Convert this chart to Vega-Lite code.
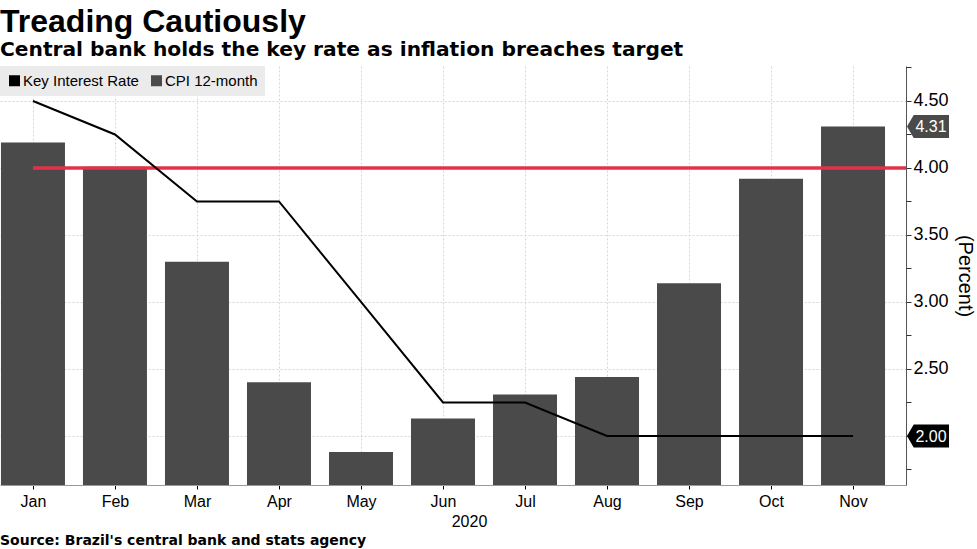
{
  "$schema": "https://vega.github.io/schema/vega-lite/v6.json",
  "width": 906,
  "height": 419,
  "autosize": {"type": "none"},
  "padding": {"left": 0, "top": 66, "right": 71, "bottom": 64},
  "background": "white",
  "title": {
    "text": "Treading Cautiously",
    "subtitle": "Central bank holds the key rate as inflation breaches target",
    "anchor": "start",
    "frame": "group",
    "offset": 5,
    "font": "Liberation Sans",
    "fontSize": 32,
    "fontWeight": "bold",
    "color": "#000000",
    "subtitleFont": "DejaVu Sans",
    "subtitleFontSize": 20.2,
    "subtitleFontWeight": "bold",
    "subtitleColor": "#000000",
    "subtitlePadding": 1
  },
  "datasets": {
    "cpi": [
      {"month": 1, "series": "CPI 12-month", "value": 4.19},
      {"month": 2, "series": "CPI 12-month", "value": 4.01},
      {"month": 3, "series": "CPI 12-month", "value": 3.30},
      {"month": 4, "series": "CPI 12-month", "value": 2.40},
      {"month": 5, "series": "CPI 12-month", "value": 1.88},
      {"month": 6, "series": "CPI 12-month", "value": 2.13},
      {"month": 7, "series": "CPI 12-month", "value": 2.31},
      {"month": 8, "series": "CPI 12-month", "value": 2.44},
      {"month": 9, "series": "CPI 12-month", "value": 3.14},
      {"month": 10, "series": "CPI 12-month", "value": 3.92},
      {"month": 11, "series": "CPI 12-month", "value": 4.31}
    ],
    "rate": [
      {"month": 1, "series": "Key Interest Rate", "value": 4.50},
      {"month": 2, "series": "Key Interest Rate", "value": 4.25},
      {"month": 3, "series": "Key Interest Rate", "value": 3.75},
      {"month": 4, "series": "Key Interest Rate", "value": 3.75},
      {"month": 5, "series": "Key Interest Rate", "value": 3.00},
      {"month": 6, "series": "Key Interest Rate", "value": 2.25},
      {"month": 7, "series": "Key Interest Rate", "value": 2.25},
      {"month": 8, "series": "Key Interest Rate", "value": 2.00},
      {"month": 9, "series": "Key Interest Rate", "value": 2.00},
      {"month": 10, "series": "Key Interest Rate", "value": 2.00},
      {"month": 11, "series": "Key Interest Rate", "value": 2.00}
    ],
    "target": [{"month": 1, "value": 4.0}],
    "source": [{"text": "Source: Brazil's central bank and stats agency"}]
  },
  "resolve": {"axis": {"y": "independent"}},
  "layer": [
    {
      "data": {"name": "cpi"},
      "mark": {"type": "bar", "width": 64, "clip": true},
      "encoding": {
        "x": {
          "field": "month",
          "type": "quantitative",
          "scale": {"domain": [0.598, 11.646], "nice": false, "zero": false, "padding": 0},
          "axis": {
            "values": [1, 2, 3, 4, 5, 6, 7, 8, 9, 10, 11],
            "labelExpr": "['Jan','Feb','Mar','Apr','May','Jun','Jul','Aug','Sep','Oct','Nov'][datum.value - 1]",
            "title": "2020",
            "grid": true,
            "gridColor": "#d6d6d6",
            "gridDash": [2, 2],
            "gridWidth": 1,
            "domainColor": "#999999",
            "tickColor": "#000000",
            "tickSize": 4,
            "labelFontSize": 16,
            "labelPadding": 4,
            "labelColor": "#000000",
            "labelFlush": false,
            "labelOverlap": false,
            "titleFontSize": 16,
            "titleFontWeight": "normal",
            "titleColor": "#000000",
            "titlePadding": 4,
            "titleX": 469
          }
        },
        "y": {
          "field": "value",
          "type": "quantitative",
          "scale": {"domain": [1.634, 4.761], "nice": false, "zero": false, "padding": 0},
          "axis": {
            "orient": "right",
            "values": [2, 2.5, 3, 3.5, 4, 4.5],
            "format": ".2f",
            "labelExpr": "datum.label == '2.00' ? '' : datum.label",
            "grid": true,
            "gridColor": "#d6d6d6",
            "gridDash": [2, 2],
            "domainColor": "#555555",
            "tickColor": "#333333",
            "tickSize": 5,
            "labelFontSize": 18,
            "labelPadding": 2,
            "labelColor": "#000000",
            "labelFlush": false,
            "labelOverlap": false,
            "title": "(Percent)",
            "titleFontSize": 20,
            "titleFontWeight": "normal",
            "titleColor": "#000000",
            "titlePadding": 6
          }
        },
        "color": {
          "field": "series",
          "type": "nominal",
          "scale": {"domain": ["Key Interest Rate", "CPI 12-month"], "range": ["#000000", "#4a4a4a"]},
          "legend": {
            "title": null,
            "orient": "none",
            "legendX": 0,
            "legendY": 0,
            "direction": "horizontal",
            "fillColor": "#ebebeb",
            "padding": 7,
            "symbolType": "square",
            "symbolSize": 121,
            "symbolStrokeWidth": 0,
            "labelFontSize": 15,
            "labelColor": "#000000",
            "columnPadding": 10,
            "labelOffset": 1
          }
        }
      }
    },
    {
      "data": {"name": "target"},
      "mark": {"type": "rule", "color": "#e5304a", "strokeWidth": 3.5},
      "encoding": {
        "x": {"field": "month", "type": "quantitative"},
        "x2": {"value": "width"},
        "y": {"field": "value", "type": "quantitative", "axis": null}
      }
    },
    {
      "data": {"name": "rate"},
      "mark": {"type": "line", "color": "#000000", "strokeWidth": 2},
      "encoding": {
        "x": {"field": "month", "type": "quantitative"},
        "y": {
          "field": "value",
          "type": "quantitative",
          "axis": {
            "orient": "right",
            "offset": 0,
            "values": [1.75, 2.25, 2.75, 3.25, 3.75, 4.25, 4.75],
            "labels": false,
            "grid": false,
            "domain": false,
            "title": null,
            "tickColor": "#333333",
            "tickSize": 5
          }
        }
      }
    },
    {
      "data": {"name": "cpi"},
      "transform": [{"filter": "datum.month == 11"}],
      "mark": {
        "type": "point",
        "shape": "M -1 0 L -0.68 -0.55 L 1 -0.55 L 1 0.55 L -0.68 0.55 Z",
        "size": 1764,
        "filled": true,
        "opacity": 1,
        "strokeWidth": 0,
        "color": "#4a4a4a",
        "xOffset": 22,
        "clip": false
      },
      "encoding": {
        "x": {"value": "width"},
        "y": {"field": "value", "type": "quantitative", "axis": null}
      }
    },
    {
      "data": {"name": "cpi"},
      "transform": [{"filter": "datum.month == 11"}],
      "mark": {"type": "text", "color": "#ffffff", "fontSize": 16, "align": "center", "baseline": "middle", "dx": 25, "dy": 1},
      "encoding": {
        "x": {"value": "width"},
        "y": {"field": "value", "type": "quantitative", "axis": null},
        "text": {"field": "value", "type": "quantitative", "format": ".2f"}
      }
    },
    {
      "data": {"name": "rate"},
      "transform": [{"filter": "datum.month == 11"}],
      "mark": {
        "type": "point",
        "shape": "M -1 0 L -0.68 -0.55 L 1 -0.55 L 1 0.55 L -0.68 0.55 Z",
        "size": 1764,
        "filled": true,
        "opacity": 1,
        "strokeWidth": 0,
        "color": "#000000",
        "xOffset": 22,
        "clip": false
      },
      "encoding": {
        "x": {"value": "width"},
        "y": {"field": "value", "type": "quantitative", "axis": null}
      }
    },
    {
      "data": {"name": "rate"},
      "transform": [{"filter": "datum.month == 11"}],
      "mark": {"type": "text", "color": "#ffffff", "fontSize": 16, "align": "center", "baseline": "middle", "dx": 25, "dy": 1},
      "encoding": {
        "x": {"value": "width"},
        "y": {"field": "value", "type": "quantitative", "axis": null},
        "text": {"field": "value", "type": "quantitative", "format": ".2f"}
      }
    },
    {
      "data": {"name": "source"},
      "mark": {"type": "text", "align": "left", "baseline": "alphabetic", "dy": 60, "font": "DejaVu Sans", "fontSize": 14, "fontWeight": "bold", "color": "#000000"},
      "encoding": {
        "x": {"value": 0},
        "y": {"value": "height"},
        "text": {"field": "text"}
      }
    }
  ],
  "config": {
    "view": {"stroke": null},
    "font": "Liberation Sans"
  }
}
